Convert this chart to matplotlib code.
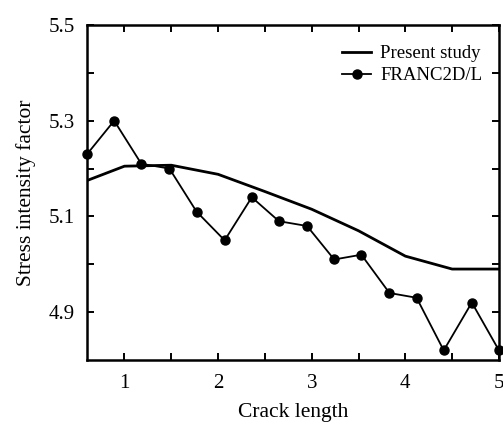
import matplotlib
matplotlib.use('Agg')
import matplotlib.pyplot as plt
from matplotlib.ticker import FixedLocator

plt.rcParams['font.family'] = ['Liberation Serif', 'DejaVu Serif']

# Present study (solid line)
present_x = [0.6, 1.0, 1.5, 2.0, 2.5, 3.0, 3.5, 4.0, 4.5, 5.0]
present_y = [5.175, 5.205, 5.207, 5.188, 5.152, 5.115, 5.070, 5.017, 4.990, 4.990]

# FRANC2D/L (line with dots)
franc_x = [0.60, 0.89, 1.18, 1.48, 1.77, 2.07, 2.36, 2.65, 2.95, 3.24,
           3.53, 3.83, 4.12, 4.41, 4.71, 5.00]
franc_y = [5.23, 5.30, 5.21, 5.20, 5.11, 5.05, 5.14, 5.09, 5.08, 5.01,
           5.02, 4.94, 4.93, 4.82, 4.92, 4.82]

x_ticks = [1, 2, 3, 4, 5]
x_minor = [1.5, 2.5, 3.5, 4.5]
y_ticks = [4.9, 5.1, 5.3, 5.5]
y_minor = [5.0, 5.2, 5.4]

fig = plt.figure(figsize=(5.03, 4.24), dpi=100)
ax = fig.add_axes([0.173, 0.151, 0.819, 0.790])

ax.plot(present_x, present_y, color='black', linewidth=2.0, label='Present study')
ax.plot(franc_x, franc_y, color='black', linewidth=1.3, marker='o',
        markersize=6.5, label='FRANC2D/L', clip_on=False)

ax.set_xlim(0.6, 5.0)
ax.set_ylim(4.8, 5.5)
ax.set_xticks(x_ticks)
ax.set_yticks(y_ticks)
ax.xaxis.set_minor_locator(FixedLocator(x_minor))
ax.yaxis.set_minor_locator(FixedLocator(y_minor))
ax.tick_params(which='both', direction='in', top=True, right=True,
               length=5, width=1.4, labelsize=15)
ax.tick_params(axis='x', pad=10)
ax.tick_params(axis='y', pad=9)
for s in ax.spines.values():
    s.set_linewidth(1.8)

ax.set_xlabel('Crack length', fontsize=15.5, labelpad=7)
ax.set_ylabel('Stress intensity factor', fontsize=15.5, labelpad=9)

ax.legend(loc='upper right', frameon=False, fontsize=13.5, handlelength=1.5,
          handletextpad=0.5, labelspacing=0.25, bbox_to_anchor=(1.0, 0.99))

fig.savefig('out.png', dpi=100)
